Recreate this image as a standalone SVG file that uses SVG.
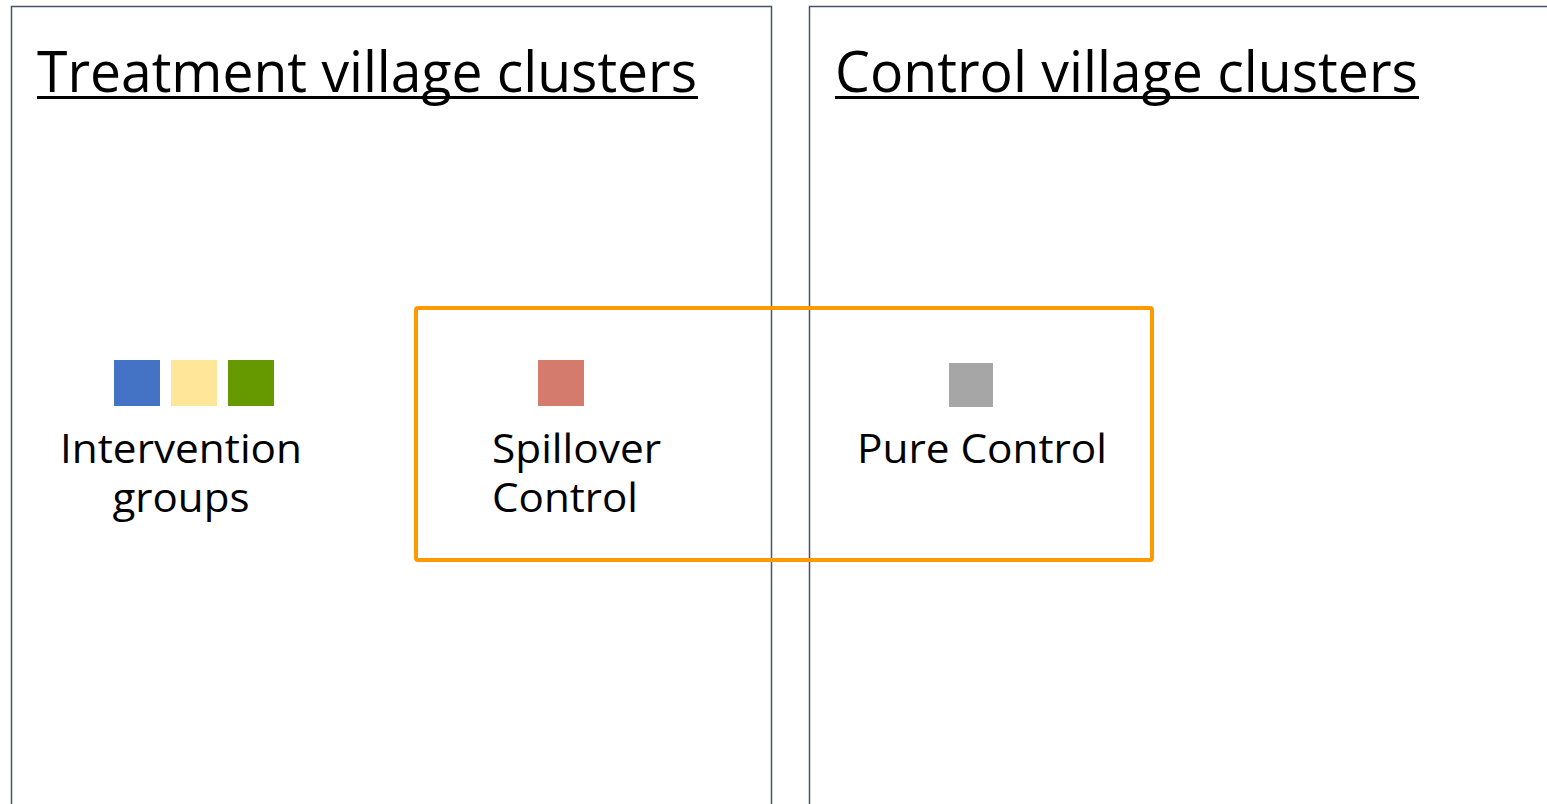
<svg xmlns="http://www.w3.org/2000/svg" width="1547" height="804" viewBox="0 0 1547 804">
  <style>
    .panel { fill: none; stroke: #44546A; stroke-width: 1.5; }
    .title { font-family: "Open Sans", "Liberation Sans", sans-serif; font-size: 56px; fill: #000; }
    .label { font-family: "Open Sans", "Liberation Sans", sans-serif; font-size: 41px; fill: #000; }
    .rule { stroke: #000; stroke-width: 3; }
  </style>
  <rect width="1547" height="804" fill="#fff"/>

  <!-- Treatment panel -->
  <g id="treatment-panel">
    <rect class="panel" x="11.5" y="6.5" width="760" height="820"/>
    <text class="title" x="37" y="92" textLength="660" lengthAdjust="spacingAndGlyphs">Treatment village clusters</text>
    <line class="rule" x1="37" y1="97.5" x2="698" y2="97.5"/>
  </g>

  <!-- Control panel -->
  <g id="control-panel">
    <rect class="panel" x="809.5" y="6.5" width="780" height="820"/>
    <text class="title" x="835" y="92" textLength="583" lengthAdjust="spacingAndGlyphs">Control village clusters</text>
    <line class="rule" x1="835" y1="97.5" x2="1419" y2="97.5"/>
  </g>

  <!-- Intervention groups -->
  <g id="intervention">
    <rect x="114" y="360" width="46" height="46" fill="#4472C4"/>
    <rect x="171" y="360" width="46" height="46" fill="#FFE699"/>
    <rect x="228" y="360" width="46" height="46" fill="#669900"/>
    <text class="label" x="181" y="463" text-anchor="middle" textLength="242" lengthAdjust="spacingAndGlyphs">Intervention</text>
    <text class="label" x="181" y="512" text-anchor="middle" textLength="137" lengthAdjust="spacingAndGlyphs">groups</text>
  </g>

  <!-- Spillover control -->
  <g id="spillover">
    <rect x="538" y="360" width="46" height="46" fill="#D47B6E"/>
    <text class="label" x="492" y="463" textLength="169" lengthAdjust="spacingAndGlyphs">Spillover</text>
    <text class="label" x="492" y="512" textLength="146" lengthAdjust="spacingAndGlyphs">Control</text>
  </g>

  <!-- Pure control -->
  <g id="pure-control">
    <rect x="949" y="363" width="44" height="44" fill="#A6A6A6"/>
    <text class="label" x="857" y="463" textLength="250" lengthAdjust="spacingAndGlyphs">Pure Control</text>
  </g>

  <!-- Comparison highlight -->
  <g id="comparison">
    <rect x="416" y="308" width="736" height="252" rx="2" fill="none" stroke="#FF9900" stroke-width="4"/>
  </g>
</svg>
